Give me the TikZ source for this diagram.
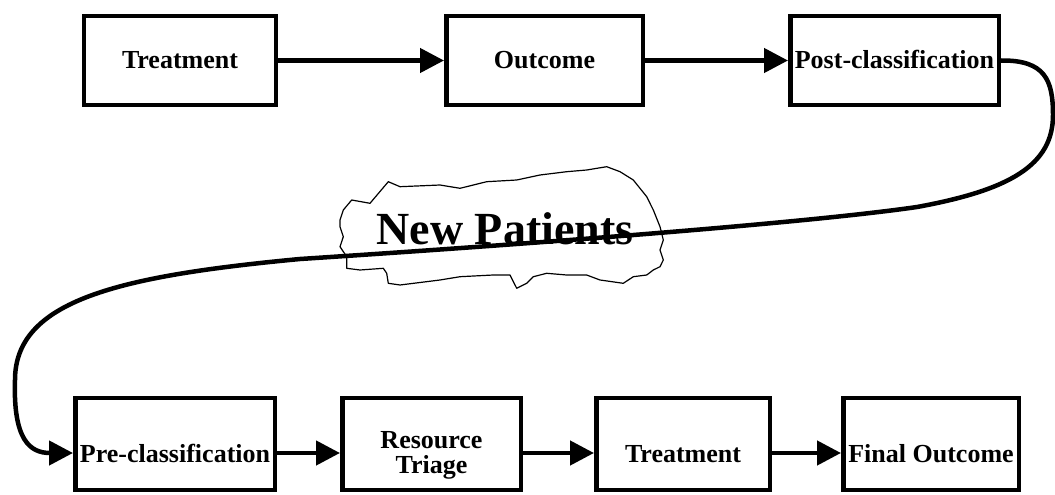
\documentclass[tikz,border=0pt]{standalone}
\usepackage{fontspec}
\setmainfont{Liberation Serif}
\usetikzlibrary{arrows.meta}
\begin{document}
\begin{tikzpicture}[x=1pt,y=-1pt,
  box/.style={draw, line width=4.5pt, minimum width=#1, inner sep=0pt,
    font=\bfseries\fontsize{26}{24}\selectfont},
  topbox/.style={box=#1, minimum height=89pt, text height=17pt, text depth=0pt},
  lowbox/.style={box=#1, minimum height=92pt, text height=36pt, text depth=0pt},
  conn/.style={line width=4.5pt, -{Triangle[length=24pt,width=24pt]}},
  cloudline/.style={draw, fill=white, line width=1.2pt, line join=round},
  bigtext/.style={font=\bfseries\fontsize{46}{50}\selectfont, inner sep=0pt, text height=30.5pt, text depth=0pt}]
\useasboundingbox (0,0) rectangle (1055,495);
% cloud
\path[cloudline] (340,220) -- (343.3,210) -- (351.7,200) -- (370,203.3) -- (388.3,181.7)
 -- (400,186.7) -- (440,185) -- (460,188.3) -- (486.7,181.7) -- (516.7,180) -- (540,175)
 -- (566.7,171.7) -- (586.7,170) -- (606.7,166.7) -- (620,171.7) -- (633.3,180)
 -- (646.7,196.7) -- (653.3,210) -- (660,226.7) -- (663.3,240) -- (660,250) -- (663.3,260)
 -- (660,266.7) -- (653.3,270) -- (646.7,275) -- (633.3,276.7) -- (623.3,283.3) -- (600,280)
 -- (586.7,275) -- (566.7,275) -- (546.7,273.3) -- (533.3,276.7) -- (526.7,283.3)
 -- (516.7,288.3) -- (510,275) -- (493.3,275) -- (460,276.7) -- (440,280) -- (400,285)
 -- (388.3,283.3) -- (386.7,273.3) -- (383.3,268.3) -- (360,270) -- (346.7,268.3)
 -- (346.7,256.7) -- (340,246.7) -- (343.3,236.7) -- (340,226.7) -- cycle;
\node[bigtext] (np) at (505,229) {New Patients};
% top row
\node[topbox=192pt] (t1) at (180,60.5) {Treatment};
\node[topbox=196.5pt] (oc) at (544.5,60.5) {Outcome};
\node[topbox=208.5pt] (post) at (894.5,60.5) {Post-classification};
% bottom row
\node[lowbox=199.5pt] (pre) at (175,444) {Pre-classification};
\node[lowbox=178.5pt, text height=30pt, text depth=22pt] (rt) at (431.5,444)
  {\begin{tabular}[t]{@{}c@{}}Resource\\Triage\end{tabular}};
\node[lowbox=173.5pt] (t2) at (683,444) {Treatment};
\node[lowbox=175.5pt] (fo) at (931,444) {Final Outcome};
% connectors
\draw[conn] (t1.east) -- (oc.west);
\draw[conn] (oc.east) -- (post.west);
\draw[conn] ([yshift=-9pt]pre.east) -- ([yshift=-9pt]rt.west);
\draw[conn] ([yshift=-9pt]rt.east) -- ([yshift=-9pt]t2.west);
\draw[conn] ([yshift=-9pt]t2.east) -- ([yshift=-9pt]fo.west);
\draw[conn] (post.east) .. controls (1045,60) and (1053,80) .. (1053,115)
  .. controls (1053,165) and (1010,190) .. (917,207)
  .. controls (800,224) and (500,246) .. (300,259)
  .. controls (120,276) and (15,300) .. (15,380)
  .. controls (13,440) and (30,453) .. ([yshift=-9pt]pre.west);
\end{tikzpicture}
\end{document}
